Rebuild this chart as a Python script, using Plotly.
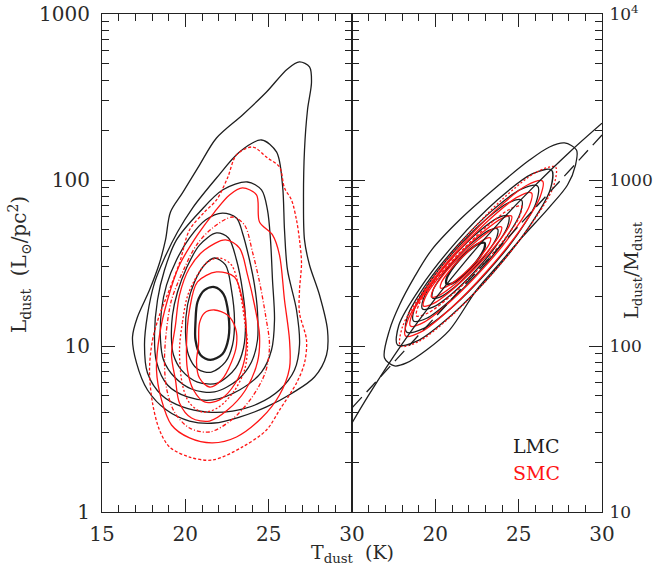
import numpy as np
import plotly.graph_objects as go

# ---------------- data ----------------
# Left panel: T_dust (K) vs log10 L_dust (Lsun/pc^2), LMC (black) contours, outer -> inner
lmc_left_T = [
    [16.83,17.13,17.85,18.45,18.81,19.11,19.83,20.85,21.87,23.43,24.87,26.13,26.85,27.45,27.57,27.33,27.15,27.09,27.15,27.45,28.05,28.53,28.47,27.75,26.43,24.87,23.25,21.75,20.25,18.87,17.73,17.07,16.83],
    [17.55,17.73,18.15,18.75,19.53,20.43,21.87,23.25,24.57,25.47,25.83,25.95,26.13,26.67,26.85,26.55,25.65,24.33,22.83,21.33,19.83,18.57,17.73,17.55],
    [18.15,18.33,18.75,19.47,20.85,22.23,23.73,24.57,24.93,25.11,25.23,25.35,25.17,24.57,23.25,21.63,20.13,18.93,18.27,18.15],
    [18.51,18.57,18.87,19.47,20.25,21.21,22.23,23.07,23.43,23.85,24.15,24.33,24.33,23.97,23.13,21.75,20.37,19.35,18.69,18.51],
    [19.17,19.23,19.53,20.07,20.85,21.87,22.59,23.07,23.43,23.61,23.49,23.01,21.93,20.73,19.77,19.29,19.17],
    [20.01,20.13,20.55,21.15,21.75,22.41,22.77,22.95,22.83,22.41,21.57,20.73,20.19,20.01],
    [20.61,20.73,21.15,21.75,22.29,22.59,22.59,22.23,21.51,20.91,20.61,20.61],
]
lmc_left_logL = [
    [1.054,1.175,1.337,1.500,1.639,1.807,1.922,2.090,2.253,2.392,2.530,2.669,2.711,2.681,2.590,2.422,2.181,1.880,1.639,1.488,1.307,1.096,0.946,0.813,0.717,0.633,0.572,0.536,0.548,0.614,0.735,0.898,1.054],
    [1.006,1.187,1.380,1.530,1.687,1.831,2.012,2.169,2.241,2.169,1.970,1.699,1.458,1.217,1.006,0.855,0.735,0.651,0.608,0.602,0.633,0.705,0.837,1.006],
    [1.066,1.277,1.458,1.639,1.807,1.940,1.988,1.940,1.819,1.639,1.398,1.157,0.976,0.843,0.735,0.675,0.693,0.765,0.904,1.066],
    [1.036,1.217,1.367,1.518,1.651,1.759,1.801,1.771,1.681,1.518,1.367,1.205,1.036,0.904,0.795,0.723,0.741,0.813,0.916,1.036],
    [1.036,1.187,1.325,1.470,1.608,1.681,1.651,1.518,1.337,1.157,0.988,0.867,0.777,0.783,0.855,0.946,1.036],
    [1.084,1.247,1.386,1.488,1.530,1.488,1.337,1.157,1.006,0.904,0.843,0.861,0.946,1.084],
    [1.145,1.265,1.337,1.355,1.313,1.187,1.048,0.952,0.916,0.946,1.036,1.145],
]

# Left panel, SMC (red) contours, outer -> inner
smc_left_T = [
    [17.85,18.03,18.45,18.87,19.65,20.25,21.15,21.87,22.53,23.07,24.03,24.93,25.65,25.95,26.37,26.67,26.85,26.97,26.85,26.85,27.27,27.15,26.67,25.65,24.87,23.43,21.63,20.25,19.05,18.45,18.03,17.85],
    [18.27,18.45,18.93,19.65,20.73,21.75,22.65,23.43,24.27,24.45,25.23,25.65,25.95,26.25,26.25,25.65,24.57,23.07,21.63,20.25,19.17,18.57,18.27],
    [18.75,18.87,19.17,19.89,20.67,21.63,22.83,23.55,24.03,24.45,24.81,25.05,24.81,23.97,22.77,21.45,20.25,19.35,18.87,18.75],
    [19.17,19.41,19.65,20.25,21.15,22.41,23.25,23.73,24.15,24.45,24.33,23.61,22.53,21.45,20.37,19.65,19.41,19.17],
    [19.65,19.83,20.13,20.73,21.33,22.05,22.77,23.25,23.55,23.73,23.55,22.89,21.93,21.03,20.25,19.83,19.65],
    [20.07,20.25,20.73,21.87,22.95,23.43,23.67,23.55,23.01,22.05,21.15,20.49,20.13,20.07],
    [20.79,20.85,21.15,21.75,22.53,23.01,23.07,22.77,22.17,21.45,20.85,20.67,20.79],
]
smc_left_logL = [
    [0.855,1.036,1.187,1.295,1.500,1.699,1.807,1.880,2.012,2.151,2.199,2.133,2.078,1.952,1.880,1.759,1.639,1.500,1.337,1.199,1.036,0.898,0.777,0.614,0.494,0.392,0.313,0.331,0.392,0.494,0.657,0.855],
    [0.855,1.066,1.277,1.488,1.669,1.807,1.910,1.952,1.910,1.747,1.669,1.548,1.277,1.036,0.867,0.705,0.566,0.452,0.416,0.446,0.524,0.675,0.855],
    [0.916,1.096,1.277,1.458,1.608,1.711,1.777,1.729,1.566,1.386,1.187,1.006,0.843,0.687,0.554,0.482,0.506,0.602,0.747,0.916],
    [0.946,1.127,1.307,1.470,1.578,1.639,1.590,1.428,1.247,1.066,0.904,0.735,0.614,0.548,0.566,0.657,0.795,0.946],
    [0.976,1.145,1.301,1.428,1.506,1.530,1.488,1.337,1.157,1.006,0.855,0.723,0.627,0.602,0.657,0.765,0.976],
    [1.006,1.217,1.386,1.446,1.416,1.277,1.078,0.916,0.777,0.675,0.663,0.735,0.855,1.006],
    [1.006,1.139,1.199,1.217,1.187,1.108,1.006,0.904,0.795,0.753,0.807,0.904,1.006],
]

# Right panel: T_dust (K) vs log10 (L_dust/M_dust), LMC (black) contours
lmc_right_T = [
    [21.45,23.67,25.65,26.85,27.75,28.47,28.41,27.93,26.85,25.23,23.67,22.47,20.85,19.47,18.27,17.55,16.95,17.25,17.85,18.75,19.77,21.45],
    [21.27,19.11,17.81,17.73,18.89,20.98,23.43,25.60,26.89,26.97,25.81,23.72,21.27],
    [21.31,19.46,18.35,18.27,19.24,21.01,23.09,24.94,26.05,26.13,25.16,23.39,21.31],
    [21.21,19.69,18.77,18.69,19.48,20.93,22.65,24.17,25.09,25.17,24.38,22.93,21.21],
    [21.24,20.02,19.29,19.23,19.86,21.02,22.38,23.60,24.33,24.39,23.76,22.60,21.24],
    [21.34,20.43,19.87,19.83,20.31,21.18,22.22,23.13,23.69,23.73,23.25,22.38,21.34],
    [21.50,20.97,20.67,20.67,20.98,21.51,22.12,22.65,22.95,22.95,22.64,22.11,21.50],
]
lmc_right_logLM = [
    [2.759,2.958,3.120,3.199,3.223,3.181,3.090,2.970,2.837,2.657,2.476,2.337,2.096,1.976,1.898,1.880,1.928,2.096,2.247,2.416,2.578,2.759],
    [2.629,2.352,2.125,2.006,2.029,2.187,2.438,2.714,2.941,3.060,3.037,2.879,2.629],
    [2.604,2.374,2.183,2.084,2.103,2.234,2.444,2.674,2.865,2.964,2.945,2.814,2.604],
    [2.579,2.389,2.231,2.151,2.167,2.277,2.451,2.641,2.799,2.880,2.863,2.753,2.579],
    [2.556,2.409,2.287,2.223,2.234,2.317,2.450,2.597,2.719,2.783,2.772,2.689,2.556],
    [2.538,2.429,2.338,2.289,2.296,2.357,2.456,2.565,2.656,2.705,2.698,2.637,2.538],
    [2.526,2.460,2.404,2.374,2.376,2.410,2.468,2.534,2.590,2.621,2.618,2.584,2.526],
]

# Right panel, SMC (red) contours
smc_right_T = [
    [21.56,19.37,18.03,17.91,19.03,21.10,23.56,25.75,27.09,27.21,26.09,24.02,21.56],
    [21.51,19.56,18.36,18.21,19.17,20.97,23.13,25.08,26.28,26.43,25.47,23.67,21.51],
    [21.47,19.75,18.66,18.51,19.33,20.90,22.81,24.53,25.62,25.77,24.95,23.38,21.47],
    [21.48,19.98,19.02,18.87,19.56,20.92,22.56,24.07,25.02,25.17,24.48,23.13,21.48],
    [21.48,20.22,19.42,19.29,19.87,21.00,22.38,23.64,24.44,24.57,23.99,22.86,21.48],
    [21.51,20.51,19.87,19.77,20.23,21.13,22.23,23.23,23.87,23.97,23.51,22.61,21.51],
    [21.54,20.82,20.37,20.31,20.65,21.30,22.09,22.80,23.25,23.31,22.97,22.32,21.54],
]
smc_right_logLM = [
    [2.626,2.345,2.116,2.000,2.029,2.194,2.452,2.733,2.962,3.078,3.049,2.884,2.626],
    [2.599,2.356,2.159,2.060,2.087,2.231,2.455,2.698,2.896,2.994,2.967,2.823,2.599],
    [2.582,2.373,2.205,2.120,2.144,2.268,2.460,2.669,2.838,2.922,2.898,2.774,2.582],
    [2.564,2.392,2.251,2.181,2.199,2.302,2.460,2.633,2.773,2.843,2.825,2.723,2.564],
    [2.556,2.415,2.299,2.241,2.255,2.338,2.468,2.609,2.725,2.783,2.769,2.686,2.556],
    [2.542,2.432,2.341,2.295,2.305,2.369,2.470,2.580,2.671,2.717,2.707,2.643,2.542],
    [2.528,2.449,2.384,2.349,2.356,2.401,2.472,2.551,2.617,2.651,2.644,2.599,2.528],
]

# Reference curves in right panel
solid_T = [15, 16, 18, 20, 22, 24, 26, 28, 30]
solid_logLM = [1.536, 1.704, 2.011, 2.285, 2.534, 2.761, 2.969, 3.163, 3.342]
dashed_T = [15, 20, 25, 30]
dashed_logLM = [1.627, 2.175, 2.723, 3.271]

# Axis ticks
x_ticks_left = [15, 20, 25, 30]
x_ticks_right = [20, 25, 30]
y_ticks_left = [1, 10, 100, 1000]
y_ticklabels_left = ["1", "10", "100", "1000"]
y_ticks_right = [10, 100, 1000, 10000]
y_ticklabels_right = ["10", "100", "1000", "10<sup>4</sup>"]

# ---------------- figure ----------------
BLACK = "#1e1e1e"
RED = "#ff1414"
AX = "#222222"
TXT = "#2a2a2a"
FONT = "DejaVu Serif"

def pow10(a):
    return (10.0 ** np.asarray(a, dtype=float)).tolist()

fig = go.Figure()

red_dash = ["3px,2px", "solid", "4px,2px,1px,2px", "solid", "2px,2px", "solid", "solid"]
red_dash_r = ["2px,2px", "solid", "solid", "3px,2px", "solid", "solid", "solid"]

def add_set(Ts, Ls, color, xa, ya, dashes=None, inner_bold=False):
    n = len(Ts)
    for i, (tx, ly) in enumerate(zip(Ts, Ls)):
        w = 1.3
        if inner_bold and i == n - 1:
            w = 2.3
        fig.add_trace(go.Scatter(
            x=tx, y=pow10(ly), mode="lines", xaxis=xa, yaxis=ya,
            line=dict(color=color, width=w, shape="spline", smoothing=0.9,
                      dash=(dashes[i] if dashes else "solid")),
            hoverinfo="skip", showlegend=False))

add_set(lmc_left_T, lmc_left_logL, BLACK, "x", "y", inner_bold=True)
add_set(smc_left_T, smc_left_logL, RED, "x", "y", dashes=red_dash)
add_set(lmc_right_T, lmc_right_logLM, BLACK, "x2", "y2", inner_bold=True)
add_set(smc_right_T, smc_right_logLM, RED, "x2", "y2", dashes=red_dash_r)

fig.add_trace(go.Scatter(x=solid_T, y=pow10(solid_logLM), mode="lines", xaxis="x2", yaxis="y2",
                         line=dict(color=BLACK, width=1.3, shape="spline"),
                         hoverinfo="skip", showlegend=False))
fig.add_trace(go.Scatter(x=dashed_T, y=pow10(dashed_logLM), mode="lines", xaxis="x2", yaxis="y2",
                         line=dict(color=BLACK, width=1.3, dash="14px,7px", shape="spline"),
                         hoverinfo="skip", showlegend=False))

minor_log_left = [k * 10 ** d for d in range(0, 3) for k in range(2, 10)]
minor_log_right = [k * 10 ** d for d in range(1, 4) for k in range(2, 10)]

common = dict(showline=True, linecolor=AX, linewidth=1.1, ticks="inside", tickcolor=AX,
              tickwidth=1.0, ticklen=13, mirror="allticks", showgrid=False, zeroline=False,
              automargin=False)
tf20 = dict(family=FONT, size=20, color=TXT)
minor_x = dict(ticks="inside", ticklen=7, dtick=1, tick0=15, tickcolor=AX, tickwidth=1.0)

fig.update_layout(
    width=655, height=578, autosize=False,
    margin=dict(l=102, r=53, t=14, b=66, autoexpand=False),
    paper_bgcolor="white", plot_bgcolor="white", showlegend=False,
    xaxis=dict(domain=[0, 0.5], range=[15, 30], anchor="y", tickmode="array",
               tickvals=x_ticks_left, ticklabelstandoff=4, minor=minor_x, tickfont=tf20, **common),
    xaxis2=dict(domain=[0.5, 1], range=[15, 30], anchor="y2", tickmode="array",
                tickvals=x_ticks_right, ticklabelstandoff=4, minor=minor_x, tickfont=tf20, **common),
    yaxis=dict(type="log", range=[0, 3], anchor="x", tickmode="array",
               tickvals=y_ticks_left, ticktext=y_ticklabels_left, ticklabelstandoff=7,
               minor=dict(ticks="inside", ticklen=7, tickvals=minor_log_left, tickcolor=AX, tickwidth=1.0),
               tickfont=tf20, **common),
    yaxis2=dict(type="log", range=[1, 4], anchor="x2", side="right", tickmode="array",
                tickvals=y_ticks_right, ticktext=y_ticklabels_right, ticklabelstandoff=3,
                minor=dict(ticks="inside", ticklen=7, tickvals=minor_log_right, tickcolor=AX, tickwidth=1.0),
                tickfont=dict(family=FONT, size=17, color=TXT), **common),
    annotations=[
        dict(text="T<sub>dust</sub>  (K)", x=0.5, y=-0.083, xref="paper", yref="paper",
             showarrow=False, xanchor="center", yanchor="middle",
             font=dict(family=FONT, size=19, color=TXT)),
        dict(text="L<sub>dust</sub>  (L<sub>⊙</sub>/pc<sup>2</sup>)", x=-0.164, y=0.496,
             xref="paper", yref="paper", showarrow=False, textangle=-90,
             xanchor="center", yanchor="middle", font=dict(family=FONT, size=20, color=TXT)),
        dict(text="L<sub>dust</sub>/M<sub>dust</sub>", x=1.062, y=0.486,
             xref="paper", yref="paper", showarrow=False, textangle=-90,
             xanchor="center", yanchor="middle", font=dict(family=FONT, size=19, color=TXT)),
        dict(text="LMC", x=26.07, y=1.398, xref="x2", yref="y2", showarrow=False,
             xanchor="center", yanchor="middle", font=dict(family=FONT, size=19, color=BLACK)),
        dict(text="SMC", x=26.07, y=1.235, xref="x2", yref="y2", showarrow=False,
             xanchor="center", yanchor="middle", font=dict(family=FONT, size=19, color=RED)),
    ],
)

fig.write_html("out.html")
